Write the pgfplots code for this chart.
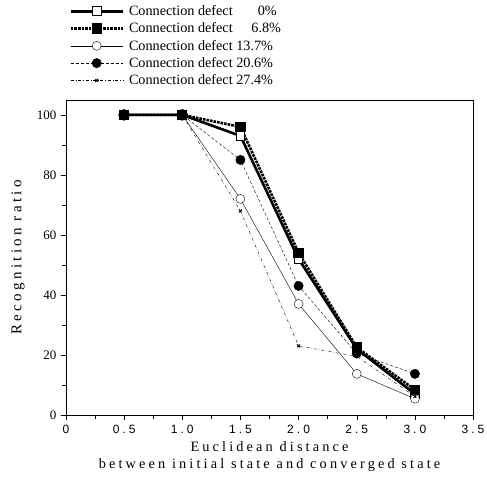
\documentclass[border=0pt]{standalone}
\usepackage{fontspec}
\setmainfont{Liberation Serif}
\newfontfamily\tickfont{Liberation Sans}[LetterSpace=25]
\newfontfamily\labfont{Liberation Serif}[LetterSpace=22]
\usepackage{pgfplots}
\pgfplotsset{compat=1.18}

\begin{document}
\begin{tikzpicture}
\begin{axis}[
    scale only axis,
    width=407pt, height=315pt,
    xmin=0, xmax=3.5, ymin=0, ymax=105,
    xtick={0,0.5,...,3.5},
    minor xtick={0.25,0.75,...,3.25},
    ytick={0,20,...,100},
    minor ytick={10,30,...,90},
    xticklabels={0,0.5,1.0,1.5,2.0,2.5,3.0,3.5},
    xtick pos=bottom, ytick pos=left,
    tick align=outside,
    major tick length=5pt, minor tick length=4pt,
    tick style={black, thin},
    /pgf/number format/assume math mode=true,
    xticklabel style={font=\tickfont\fontsize{12}{14}\selectfont, yshift=-2pt},
    yticklabel style={font=\fontsize{13}{15}\selectfont, xshift=-1pt},
    xlabel={Euclidean distance\\between initial state and converged state},
    xlabel style={font=\labfont\fontsize{14.3}{17}\selectfont, align=center,
        at={(axis description cs:0.5,-0.072)}, anchor=north},
    ylabel={Recognition ratio},
    ylabel style={font=\labfont\fontsize{15}{17}\selectfont,
        at={(axis description cs:-0.118,0.5)}, anchor=center},
    legend style={at={(axis description cs:0.008,1.305)}, anchor=north west,
        draw=none, fill=none, font=\fontsize{14.2}{17}\selectfont,
        row sep=2.8pt, inner sep=0pt,
        nodes={inner xsep=5pt, inner ysep=1.5pt}},
    legend cell align=left,
    legend image code/.code={\draw[mark repeat=2,mark phase=2,#1]
        plot coordinates {(0pt,0pt) (26pt,0pt) (52pt,0pt)};},
    clip=false,
]
\addplot[black, line width=2.6pt, mark=square*, mark size=4.3pt,
    mark options={solid, fill=white, line width=1pt}] coordinates {
    (0.5,100) (1.0,100) (1.5,93) (2.0,52) (2.5,22) (3.0,7)
};
\addlegendentry{Connection defect\makebox[3.1em][r]{0\%}}
\addplot[black, line width=2.6pt, densely dotted, mark=square*, mark size=3.9pt,
    mark options={solid, fill=black}] coordinates {
    (0.5,100) (1.0,100) (1.5,96) (2.0,54) (2.5,22.5) (3.0,8.4)
};
\addlegendentry{Connection defect\makebox[3.4em][r]{6.8\%}}
\addplot[black, thin, mark=*, mark size=4.5pt,
    mark options={solid, fill=white}] coordinates {
    (0.5,100) (1.0,100) (1.5,72) (2.0,37) (2.5,13.7) (3.0,5.4)
};
\addlegendentry{Connection defect 13.7\%}
\addplot[black, thin, densely dashed, mark=*, mark size=4.7pt,
    mark options={solid, fill=black}] coordinates {
    (0.5,100) (1.0,100) (1.5,85) (2.0,43) (2.5,20.5) (3.0,13.7)
};
\addlegendentry{Connection defect 20.6\%}
\addplot[black, thin, dash dot, mark=x, mark size=2pt,
    mark options={solid, line width=1pt}] coordinates {
    (0.5,100) (1.0,100) (1.5,68) (2.0,23) (2.5,19.5) (3.0,6.2)
};
\addlegendentry{Connection defect 27.4\%}
% filled circles lie on top of the squares at 0.5 and 1.0
\addplot[forget plot, only marks, black, mark=*, mark size=5.5pt] coordinates {
    (0.5,100) (1.0,100)
};
\coordinate (bl) at (axis description cs:-0.162,-0.235);
\coordinate (tr) at (axis description cs:1.032,1.317);
\end{axis}
\pgfresetboundingbox
\path[use as bounding box] (bl) rectangle (tr);
\end{tikzpicture}
\end{document}
